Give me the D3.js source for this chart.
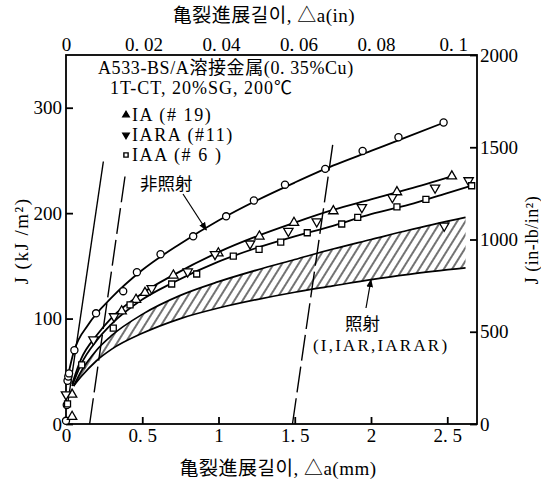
<!DOCTYPE html>
<html><head><meta charset="utf-8">
<script src="https://cdn.jsdelivr.net/npm/d3@7"></script>
<style>
body{margin:0;background:#fff;}
svg text{font-family:"Liberation Serif","Noto Sans CJK JP",serif;fill:#000;}
</style></head>
<body><svg id="c" width="541" height="479"></svg>
<script>
// ---- data (mm, kJ/m^2) ----
const xTicksMM = [0, 0.5, 1, 1.5, 2, 2.5];
const xTickLabelsMM = ["0", "0. 5", "1", "1. 5", "2", "2. 5"];
const xTicksIn = [0, 0.02, 0.04, 0.06, 0.08, 0.1];
const xTickLabelsIn = ["0", "0. 02", "0. 04", "0. 06", "0. 08", "0. 1"];
const yTicksKJ = [0, 100, 200, 300];
const yTicksInLb = [0, 500, 1000, 1500, 2000];

const unirrPts = [[0,3],[0.005,18],[0.01,41],[0.015,45],[0.02,48],[0.055,70],[0.197,105],[0.375,126],[0.465,144],[0.62,161],[0.834,178],[1.05,197],[1.232,212],[1.436,227],[1.70,242],[1.945,259],[2.18,272],[2.476,286]];
const iaPts = [[0.04,7],[0.04,28],[0.365,107],[0.459,118],[0.518,124.5],[0.704,141],[0.999,162],[1.268,178],[1.495,191],[1.753,202],[2.17,220],[2.53,235]];
const iaraPts = [[0,28],[0.18,80],[0.315,102],[0.562,128.7],[0.798,144.5],[0.977,161],[1.207,171],[1.458,183],[1.644,192],[1.94,205.5],[2.14,215],[2.42,224],[2.64,231],[2.48,188]];
const iaaPts = [[0.01,19],[0.103,56],[0.31,91],[0.42,113],[0.693,132.8],[0.857,142.3],[1.097,159.3],[1.266,165.7],[1.408,172.6],[1.582,181.4],[1.808,189.7],[1.913,196],[2.17,206],[2.36,213],[2.66,226]];

const unirrFit = [[0.01,44],[0.05,68],[0.15,95],[0.3,120],[0.5,146],[0.75,171],[1.0,193],[1.25,212],[1.5,229],[1.75,245],[2.0,259],[2.25,273],[2.48,286]];
const iaFit = [[0.04,38],[0.1,62],[0.2,84],[0.3,101],[0.5,124],[0.7,141],[1.0,163],[1.25,178],[1.5,191],[1.75,203],[2.0,213],[2.25,223],[2.53,235]];
const iaaFit = [[0.04,36],[0.1,57],[0.2,79],[0.3,95],[0.5,118],[0.7,134],[1.0,154],[1.25,167],[1.5,178],[1.75,188],[2.0,199],[2.25,208],[2.5,219],[2.66,226]];
const bandUpper = [[0.05,36],[0.1,50],[0.2,70],[0.3,84],[0.5,104],[0.75,122],[1.0,135],[1.25,146],[1.5,156],[1.75,166],[2.0,175],[2.25,184],[2.62,196]];
const bandLower = [[0.05,36],[0.1,45],[0.2,60],[0.3,71],[0.5,86],[0.75,100],[1.0,110],[1.25,118],[1.5,125],[1.75,131],[2.0,137],[2.25,142],[2.62,148]];

const bluntLine = [[0.01,18],[0.245,249]];
const excl1 = [[0.155,0],[0.39,238]];
const excl2 = [[1.485,0],[1.753,269]];

// ---- scales ----
const svg = d3.select("#c");
const X0 = 66, X1 = 477, Y0 = 424, Y1 = 55;
const x = d3.scaleLinear().domain([0, 2.695]).range([X0, X1]);
const xIn = d3.scaleLinear().domain([0, 2.695/25.4]).range([X0, X1]);
const y = d3.scaleLinear().domain([0, 350]).range([Y0, Y1]);
const yR = d3.scaleLinear().domain([0, 2000]).range([Y0, Y1]);

const defs = svg.append("defs");
const pat = defs.append("pattern").attr("id","hatch").attr("patternUnits","userSpaceOnUse")
  .attr("width",7).attr("height",10).attr("patternTransform","rotate(32)");
pat.append("line").attr("x1",1).attr("y1",0).attr("x2",1).attr("y2",10).attr("stroke","#000").attr("stroke-width",1.1);

// frame
svg.append("rect").attr("x",X0).attr("y",Y1).attr("width",X1-X0).attr("height",Y0-Y1)
  .attr("fill","none").attr("stroke","#000").attr("stroke-width",1.8);

const fs = 19;
function styleAxis(g){ g.attr("font-family",null).attr("font-size",null);
  g.select(".domain").remove(); g.selectAll("line").attr("stroke","#000").attr("stroke-width",1.8);
  g.selectAll("text").attr("font-size",fs); }

svg.append("g").attr("transform",`translate(${X0},0)`)
  .call(d3.axisLeft(y).tickValues(yTicksKJ).tickSize(-7).tickPadding(4).tickFormat(d3.format("d"))).call(styleAxis);
svg.append("g").attr("transform",`translate(${X1},0)`)
  .call(d3.axisRight(yR).tickValues(yTicksInLb).tickSize(-7).tickPadding(3).tickFormat(d3.format("d"))).call(styleAxis);
svg.append("g").attr("transform",`translate(0,${Y0})`)
  .call(d3.axisBottom(x).tickValues(xTicksMM).tickSize(-7).tickPadding(5).tickFormat((d,i)=>xTickLabelsMM[i])).call(styleAxis);
svg.append("g").attr("transform",`translate(0,${Y1})`)
  .call(d3.axisTop(xIn).tickValues(xTicksIn).tickSize(0).tickPadding(4).tickFormat((d,i)=>xTickLabelsIn[i])).call(styleAxis);

// axis titles
svg.append("text").attr("x",264).attr("y",22).attr("text-anchor","middle").attr("font-size",19).attr("letter-spacing",0.5).text("亀裂進展길이, △a(in)");
svg.append("text").attr("x",278).attr("y",475).attr("text-anchor","middle").attr("font-size",19).attr("letter-spacing",0.5).text("亀裂進展길이, △a(mm)");
svg.append("text").attr("transform","translate(28,241) rotate(-90)").attr("text-anchor","middle").attr("font-size",19).attr("letter-spacing",1.5).text("J (kJ /m²)");
svg.append("text").attr("transform","translate(538,240) rotate(-90)").attr("text-anchor","middle").attr("font-size",18).attr("letter-spacing",0.5).text("J (in-lb/in²)");

// band
const area = d3.area().x(d=>x(d[0])).y0((d,i)=>y(bandLower[i][1])).y1(d=>y(d[1])).curve(d3.curveMonotoneX);
svg.append("path").datum(bandUpper).attr("d",area).attr("fill","url(#hatch)").attr("stroke","none");
const line = d3.line().x(d=>x(d[0])).y(d=>y(d[1])).curve(d3.curveMonotoneX);
[bandUpper, bandLower].forEach(d=>svg.append("path").datum(d).attr("d",line).attr("fill","none").attr("stroke","#000").attr("stroke-width",1.7));
[unirrFit, iaFit, iaaFit].forEach(d=>svg.append("path").datum(d).attr("d",line).attr("fill","none").attr("stroke","#000").attr("stroke-width",1.8));

const straight = d3.line().x(d=>x(d[0])).y(d=>y(d[1]));
svg.append("path").datum(bluntLine).attr("d",straight).attr("stroke","#000").attr("stroke-width",1.4);
[excl1, excl2].forEach(d=>svg.append("path").datum(d).attr("d",straight).attr("stroke","#000").attr("stroke-width",1.4).attr("stroke-dasharray","26,6"));

// markers
const sym = {
  circle: d3.symbol().type(d3.symbolCircle).size(40),
  tri: d3.symbol().type(d3.symbolTriangle).size(38),
  square: d3.symbol().type(d3.symbolSquare).size(36)
};
function drawPts(pts, s, rot){
  svg.append("g").selectAll("path").data(pts).join("path")
    .attr("d", s).attr("transform", d=>`translate(${x(d[0])},${y(d[1])})${rot?" rotate(180)":""}`)
    .attr("fill","#fff").attr("stroke","#000").attr("stroke-width",1.3);
}
drawPts(unirrPts, sym.circle, false);
drawPts(iaPts, sym.tri, false);
drawPts(iaraPts, sym.tri, true);
drawPts(iaaPts, sym.square, false);

// legend / annotations
const lf = 18;
svg.append("text").attr("x",98).attr("y",74).attr("font-size",lf).attr("letter-spacing",0.6).text("A533-BS/A溶接金属(0. 35%Cu)");
svg.append("text").attr("x",110).attr("y",94).attr("font-size",lf).attr("letter-spacing",1).text("1T-CT, 20%SG, 200℃");
const leg = [["tri",false,"IA (# 19)",115],["tri",true,"IARA (#11)",135],["square",false,"IAA (# 6 )",155]];
leg.forEach(l=>{
  svg.append("path").attr("d", d3.symbol().type(l[0]==="tri"?d3.symbolTriangle:d3.symbolSquare).size(18))
    .attr("transform",`translate(126,${l[3]})${l[1]?" rotate(180)":""}`)
    .attr("fill", l[0]==="tri"?"#000":"#fff").attr("stroke","#000").attr("stroke-width",1.4);
  svg.append("text").attr("x",132).attr("y",l[3]+6).attr("font-size",lf).attr("letter-spacing",1.6).text(l[2]);
});
svg.append("text").attr("x",140).attr("y",190).attr("font-size",17.5).text("非照射");
svg.append("text").attr("x",345).attr("y",330).attr("font-size",17.5).text("照射");
svg.append("text").attr("x",313).attr("y",351).attr("font-size",17).attr("letter-spacing",2.2).text("(I,IAR,IARAR)");

defs.append("marker").attr("id","arr").attr("viewBox","0 0 10 10").attr("refX",9).attr("refY",5)
  .attr("markerWidth",7).attr("markerHeight",7).attr("orient","auto")
  .append("path").attr("d","M0,1 L10,5 L0,9 z").attr("fill","#000");
svg.append("line").attr("x1",183).attr("y1",194).attr("x2",x(0.92)).attr("y2",y(184)).attr("stroke","#000").attr("stroke-width",1.2).attr("marker-end","url(#arr)");
svg.append("line").attr("x1",366).attr("y1",308).attr("x2",x(2.0)).attr("y2",y(137)).attr("stroke","#000").attr("stroke-width",1.2).attr("marker-end","url(#arr)");
</script></body></html>
